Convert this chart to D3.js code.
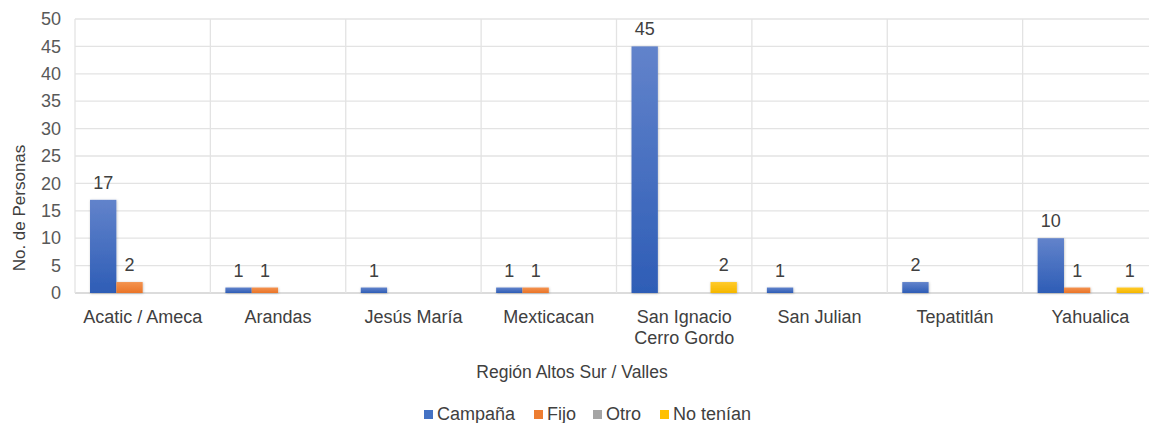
<!DOCTYPE html>
<html>
<head>
<meta charset="utf-8">
<script src="https://cdn.jsdelivr.net/npm/d3@7"></script>
<style>
  body { margin: 0; background: #fff; }
  svg { font-family: "Liberation Sans", Arial, sans-serif; }
  .axis path, .axis line { display: none; }
</style>
</head>
<body>
<svg id="chart" width="1149" height="423"></svg>
<script>
var categories = ["Acatic / Ameca", "Arandas", "Jesús María", "Mexticacan", "San Ignacio\nCerro Gordo", "San Julian", "Tepatitlán", "Yahualica"];
var seriesNames = ["Campaña", "Fijo", "Otro", "No tenían"];
var campana = [17, 1, 1, 1, 45, 1, 2, 10];
var fijo = [2, 1, 0, 1, 0, 0, 0, 1];
var otro = [0, 0, 0, 0, 0, 0, 0, 0];
var noTenian = [0, 0, 0, 0, 2, 0, 0, 1];
var yTicks = [0, 5, 10, 15, 20, 25, 30, 35, 40, 45, 50];

var seriesValues = [campana, fijo, otro, noTenian];
var colors = ["#4472c4", "#ed7d31", "#a5a5a5", "#ffc000"];
var gradTop = ["#6283cb", "#f39350", "#b8b8b8", "#ffca2a"];
var gradBottom = ["#2e5db6", "#ea7427", "#979797", "#f5b700"];

var svg = d3.select("svg#chart"),
    margin = {top: 19, left: 75},
    plotWidth = 1083,
    plotHeight = 274;

var defs = svg.append("defs");
seriesNames.forEach(function(s, i) {
  var lg = defs.append("linearGradient")
      .attr("id", "grad" + i)
      .attr("x1", 0).attr("y1", 0).attr("x2", 0).attr("y2", 1);
  lg.append("stop").attr("offset", "0%").attr("stop-color", gradTop[i]);
  lg.append("stop").attr("offset", "100%").attr("stop-color", gradBottom[i]);
});
var shadow = defs.append("filter").attr("id", "shadow")
    .attr("x", "-20%").attr("y", "-20%").attr("width", "140%").attr("height", "140%");
shadow.append("feDropShadow").attr("dx", 0.5).attr("dy", 0.5).attr("stdDeviation", 0.8)
    .attr("flood-color", "#000").attr("flood-opacity", 0.25);

var x0 = d3.scaleBand()
    .domain(categories)
    .range([0, plotWidth]);

var x1 = d3.scaleBand()
    .domain(seriesNames)
    .range([0, x0.bandwidth()])
    .paddingOuter(0.57);

var y = d3.scaleLinear()
    .domain([0, 50])
    .range([plotHeight, 0]);

var g = svg.append("g").attr("transform", "translate(" + margin.left + "," + margin.top + ")");

// gridlines
g.append("g")
  .selectAll("line")
  .data(yTicks)
  .enter().append("line")
    .attr("x1", 0)
    .attr("x2", plotWidth)
    .attr("y1", function(d) { return y(d); })
    .attr("y2", function(d) { return y(d); })
    .attr("stroke", function(d) { return d === 0 ? "#d0d0d0" : "#e3e3e3"; })
    .attr("stroke-width", 1.3);

g.append("g")
  .selectAll("line")
  .data(categories)
  .enter().append("line")
    .attr("x1", function(d) { return x0(d); })
    .attr("x2", function(d) { return x0(d); })
    .attr("y1", 0)
    .attr("y2", plotHeight)
    .attr("stroke", "#e3e3e3")
    .attr("stroke-width", 1.3);

// bars
var groups = g.append("g")
  .selectAll("g")
  .data(categories)
  .enter().append("g")
    .attr("transform", function(d) { return "translate(" + x0(d) + ",0)"; });

var cells = groups.selectAll("g")
  .data(function(d, ci) { return seriesNames.map(function(s, si) { return {key: s, idx: si, value: seriesValues[si][ci]}; }); })
  .enter().append("g")
    .filter(function(d) { return d.value > 0; });

cells.append("rect")
    .attr("x", function(d) { return x1(d.key); })
    .attr("y", function(d) { return y(d.value); })
    .attr("width", x1.bandwidth())
    .attr("height", function(d) { return plotHeight - y(d.value); })
    .attr("fill", function(d) { return "url(#grad" + d.idx + ")"; })
    .attr("filter", "url(#shadow)");

cells.append("text")
    .attr("x", function(d) { return x1(d.key) + x1.bandwidth() / 2; })
    .attr("y", function(d) { return y(d.value) - 11; })
    .attr("text-anchor", "middle")
    .attr("font-size", 18)
    .attr("fill", "#404040")
    .text(function(d) { return d.value; });

// y axis
g.append("g")
    .attr("class", "axis")
    .call(d3.axisLeft(y).tickValues(yTicks).tickSize(0).tickPadding(14))
  .selectAll("text")
    .attr("font-size", 18)
    .attr("font-family", "Liberation Sans, Arial, sans-serif")
    .attr("fill", "#595959");

// x axis
var xAxis = g.append("g")
    .attr("class", "axis")
    .attr("transform", "translate(0," + plotHeight + ")")
    .call(d3.axisBottom(x0).tickSize(0).tickFormat(""));

xAxis.selectAll("g.tick")
  .append("text")
    .attr("y", 30)
    .attr("text-anchor", "middle")
    .attr("font-size", 18)
    .attr("font-family", "Liberation Sans, Arial, sans-serif")
    .attr("fill", "#404040")
  .selectAll("tspan")
  .data(function(d) { return d.split("\n"); })
  .enter().append("tspan")
    .attr("x", 0)
    .attr("dy", function(d, i) { return i === 0 ? 0 : 21; })
    .text(function(d) { return d; });

// axis titles
svg.append("text")
    .attr("transform", "translate(25,208) rotate(-90)")
    .attr("text-anchor", "middle")
    .attr("font-size", 17)
    .attr("fill", "#404040")
    .text("No. de Personas");

svg.append("text")
    .attr("x", 572)
    .attr("y", 378)
    .attr("text-anchor", "middle")
    .attr("font-size", 17.5)
    .attr("fill", "#404040")
    .text("Región Altos Sur / Valles");

// legend
var legendX = [424, 534, 593, 660];
var legend = svg.append("g")
  .selectAll("g")
  .data(seriesNames)
  .enter().append("g")
    .attr("transform", function(d, i) { return "translate(" + legendX[i] + ",410)"; });

legend.append("rect")
    .attr("x", 0)
    .attr("y", 0)
    .attr("width", 9)
    .attr("height", 9)
    .attr("fill", function(d, i) { return colors[i]; });

legend.append("text")
    .attr("x", 13)
    .attr("y", 10)
    .attr("font-size", 18)
    .attr("fill", "#404040")
    .text(function(d) { return d; });
</script>
</body>
</html>
